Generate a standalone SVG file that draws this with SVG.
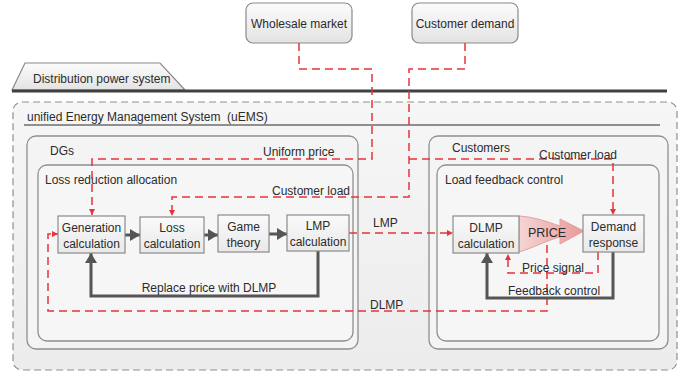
<svg xmlns="http://www.w3.org/2000/svg" width="695" height="377" viewBox="0 0 695 377">
<defs>
<style>
text{font-family:"Liberation Sans",Arial,sans-serif;font-size:12px;fill:#2b2b2b}
.c{text-anchor:middle}
.node{fill:url(#ng);stroke:#8a8a8a;stroke-width:1.2}
.top{fill:url(#tg);stroke:#8a8a8a;stroke-width:1.2}
.cont{stroke:#8f8f8f;stroke-width:1.3}
.red{fill:none;stroke:#e8333b;stroke-width:1.5;stroke-dasharray:8 5}
.redA{marker-end:url(#ra)}
.dark{fill:none;stroke:#555;stroke-width:3;marker-end:url(#da)}
</style>
<linearGradient id="ng" x1="0" y1="0" x2="0" y2="1"><stop offset="0" stop-color="#fafafa"/><stop offset="1" stop-color="#e9e9e9"/></linearGradient>
<linearGradient id="tg" x1="0" y1="0" x2="0" y2="1"><stop offset="0" stop-color="#fcfcfc"/><stop offset="1" stop-color="#e3e3e3"/></linearGradient>
<linearGradient id="bg" x1="0" y1="0" x2="0" y2="1"><stop offset="0" stop-color="#f6f6f6"/><stop offset="1" stop-color="#ececec"/></linearGradient>
<linearGradient id="pg" x1="0" y1="0" x2="1" y2="0"><stop offset="0" stop-color="#f6d4d4"/><stop offset="1" stop-color="#e69a9a"/></linearGradient>
<marker id="ra" viewBox="0 0 6 6" refX="6" refY="3" markerWidth="6" markerHeight="6" markerUnits="userSpaceOnUse" orient="auto"><path d="M0,0 L6,3 L0,6 z" fill="#e8333b"/></marker>
<marker id="da" viewBox="0 0 10 12" refX="10" refY="6" markerWidth="10" markerHeight="12" markerUnits="userSpaceOnUse" orient="auto"><path d="M0,0 L10,6 L0,12 z" fill="#555"/></marker>
</defs>
<rect width="695" height="377" fill="#ffffff"/>

<g id="distribution">
<path d="M12,90 L25,63 L160,63 L185,90 Z" fill="url(#tg)" stroke="#8a8a8a" stroke-width="1.2"/>
<text x="33" y="83">Distribution power system</text>
<line x1="12" y1="91" x2="667" y2="91" stroke="#404040" stroke-width="3.2"/>
</g>

<g id="uems">
<rect x="13" y="102" width="664" height="268" rx="9" fill="url(#bg)" stroke="#8f8f8f" stroke-width="1.2" stroke-dasharray="7 4"/>
<text x="27" y="121" xml:space="preserve">unified Energy Management System  (uEMS)</text>
<line x1="24" y1="125" x2="660" y2="125" stroke="#8f8f8f" stroke-width="2"/>
</g>

<g id="dgs">
<rect x="27" y="136" width="331" height="213" rx="9" fill="#f4f4f4" class="cont"/>
<text x="50" y="155">DGs</text>
</g>
<g id="loss-reduction-allocation">
<rect x="38" y="165" width="315" height="176" rx="9" fill="#f6f6f6" class="cont"/>
<text x="45" y="184">Loss reduction allocation</text>
</g>
<g id="customers">
<rect x="429" y="136" width="239" height="213" rx="9" fill="#f4f4f4" class="cont"/>
<text x="452" y="152">Customers</text>
</g>
<g id="load-feedback-control">
<rect x="437" y="165" width="222" height="176" rx="9" fill="#f6f6f6" class="cont"/>
<text x="445" y="184">Load feedback control</text>
</g>

<g id="wholesale-market">
<rect x="246" y="3" width="106" height="40" rx="7" class="top"/>
<text class="c" x="299" y="28">Wholesale market</text>
</g>
<g id="customer-demand">
<rect x="412" y="3" width="106" height="40" rx="7" class="top"/>
<text class="c" x="465" y="28">Customer demand</text>
</g>

<g id="price-arrow">
<path d="M519,216 C535,217 548,222 560,226 L560,219 L584,231 L560,244 L560,237 C548,240 535,247 519,252 Z" fill="url(#pg)" stroke="#e6a0a0" stroke-width="1"/>
</g>

<g id="connectors">
<path class="red redA" d="M299,43 V69 H372 V159 H92 V215"/>
<path class="red redA" d="M465,43 V69 H409 V197 H172 V216"/>
<path class="red redA" d="M409,159 H613 V215"/>
<path class="red redA" d="M349,233 H453"/>
<path class="red redA" d="M547,245 V311 H48 V234 H58"/>
<path class="red redA" d="M598,252 V273 H508 V254"/>
<path class="dark" d="M125,235 H140"/>
<path class="dark" d="M204,235 H218"/>
<path class="dark" d="M269,234 H287"/>
<path class="dark" d="M318,251 V296 H91 V253"/>
<path class="dark" d="M613,252 V298 H487 V253"/>
<text x="272" y="195">Customer load</text>
<text x="263" y="156">Uniform price</text>
<text x="539" y="159">Customer load</text>
<text x="373" y="227">LMP</text>
<text x="370" y="309">DLMP</text>
<text class="c" x="209" y="292">Replace price with DLMP</text>
<text x="522" y="272">Price signal</text>
<text x="508" y="295">Feedback control</text>
</g>

<g id="price-label"><text class="c" x="547" y="237" style="font-size:12.5px">PRICE</text></g>

<g id="generation-calculation">
<rect x="58" y="216" width="67" height="37" class="node"/>
<text class="c" x="91.5" y="232">Generation</text>
<text class="c" x="91.5" y="248">calculation</text>
</g>
<g id="loss-calculation">
<rect x="140" y="217" width="64" height="36" class="node"/>
<text class="c" x="172" y="232">Loss</text>
<text class="c" x="172" y="248">calculation</text>
</g>
<g id="game-theory">
<rect x="218" y="215" width="51" height="37" class="node"/>
<text class="c" x="243.5" y="231">Game</text>
<text class="c" x="243.5" y="247">theory</text>
</g>
<g id="lmp-calculation">
<rect x="287" y="215" width="62" height="36" class="node"/>
<text class="c" x="318" y="230">LMP</text>
<text class="c" x="318" y="246">calculation</text>
</g>
<g id="dlmp-calculation">
<rect x="453" y="216" width="66" height="37" class="node"/>
<text class="c" x="486" y="232">DLMP</text>
<text class="c" x="486" y="248">calculation</text>
</g>
<g id="demand-response">
<rect x="583" y="215" width="61" height="37" class="node"/>
<text class="c" x="613.5" y="231">Demand</text>
<text class="c" x="613.5" y="247">response</text>
</g>
</svg>
